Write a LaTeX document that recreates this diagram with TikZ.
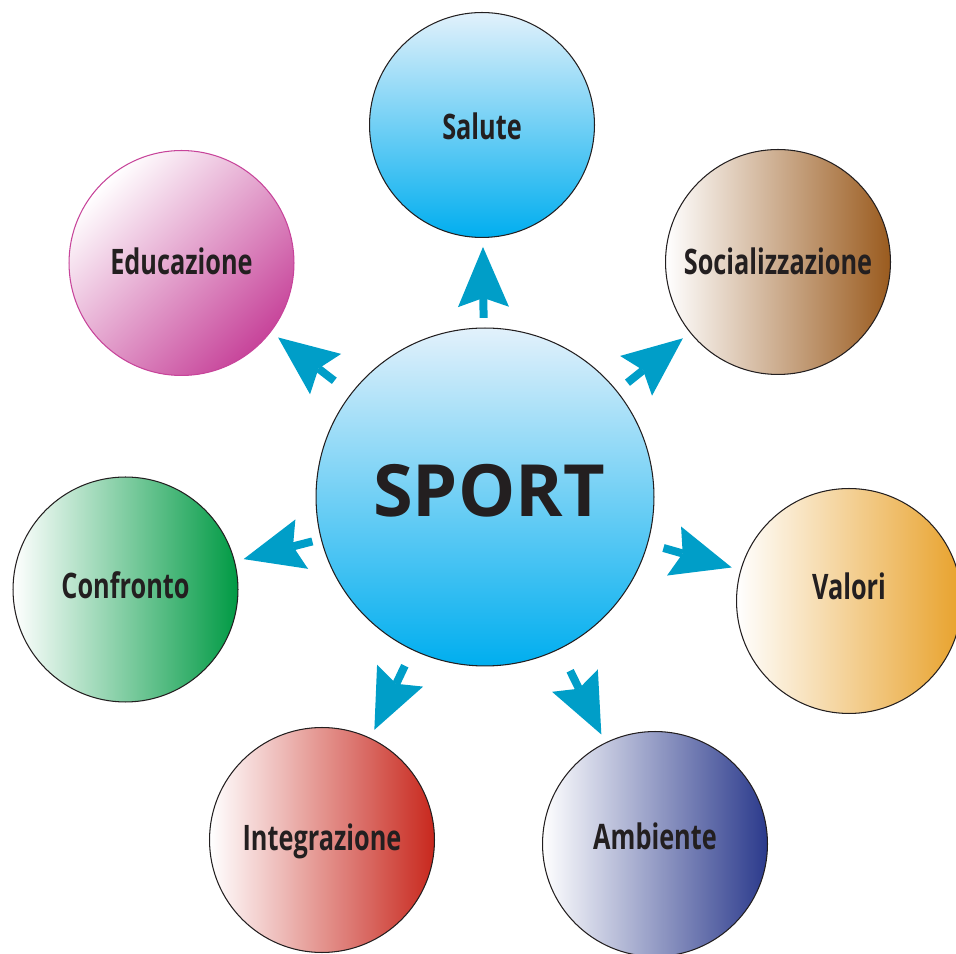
\documentclass[tikz,border=0pt]{standalone}
\usepackage{fontspec}
\newfontfamily\sportfont{Open Sans}
\newfontfamily\labelfont[FakeStretch=0.72]{Open Sans}
\usetikzlibrary{arrows.meta,calc}
\definecolor{arrowblue}{RGB}{0,158,200}
\definecolor{skytop}{RGB}{226,241,251}
\definecolor{skyblue}{RGB}{0,174,239}
\definecolor{socbrown}{RGB}{154,91,30}
\definecolor{valorange}{RGB}{232,162,44}
\definecolor{ambnavy}{RGB}{43,58,140}
\definecolor{intred}{RGB}{200,40,30}
\definecolor{congreen}{RGB}{0,154,68}
\definecolor{edumagenta}{RGB}{199,68,154}
\definecolor{inkgray}{RGB}{35,31,32}

\begin{document}
\begin{tikzpicture}[x=0.02cm,y=0.02cm,
  bubble/.style={circle,draw=inkgray,line width=0.6pt,minimum size=4.5cm,inner sep=0pt},
  word/.style={font=\labelfont\bfseries\fontsize{20}{22}\selectfont,text=inkgray,
    text height=14.3pt,text depth=0pt,inner sep=0pt},
  fatarrow/.style={arrowblue,line width=0.16cm,
    -{Stealth[length=1.2cm,width=1.02cm,inset=0.18cm,line width=0pt]}}]
  \useasboundingbox (0,0) rectangle (956,953);
  % circles
  \node[bubble,top color=skytop,bottom color=skyblue,minimum size=6.76cm] (sport) at (485,456) {};
  \node[bubble,top color=skytop,bottom color=skyblue] (salute) at (482,828) {};
  \node[bubble,left color=white,right color=socbrown] (social) at (778,691) {};
  \node[bubble,left color=white,right color=valorange] (valori) at (849,352) {};
  \node[bubble,left color=white,right color=ambnavy] (ambiente) at (655,109) {};
  \node[bubble,left color=white,right color=intred] (integr) at (322,113) {};
  \node[bubble,left color=white,right color=congreen] (confronto) at (125.5,363.5) {};
  \node[bubble,draw=edumagenta,top color=white,bottom color=edumagenta,shading angle=45] (educ) at (181.5,690) {};
  % arrows
  \foreach \sat in {salute,social,valori,ambiente,integr,confronto,educ}{
    \coordinate (\sat-tip) at ($(\sat)!2.44cm!(sport)$);
    \coordinate (\sat-tail) at ($(\sat-tip)!1.42cm!(sport)$);
    \draw[fatarrow] (\sat-tail) -- (\sat-tip);
  }
  % labels
  \node[word,font=\sportfont\bfseries\fontsize{41}{44}\selectfont,text height=29.3pt] (sport-t) at (489,462.5) {SPORT};
  \node[word] (salute-t) at (482,826) {Salute};
  \node[word] (social-t) at (778,691) {Socializzazione};
  \node[word] (valori-t) at (849,366.5) {Valori};
  \node[word] (ambiente-t) at (655,116) {Ambiente};
  \node[word] (integr-t) at (322,115) {Integrazione};
  \node[word] (confronto-t) at (125.5,367) {Confronto};
  \node[word] (educ-t) at (181.5,691.5) {Educazione};
\end{tikzpicture}
\end{document}
